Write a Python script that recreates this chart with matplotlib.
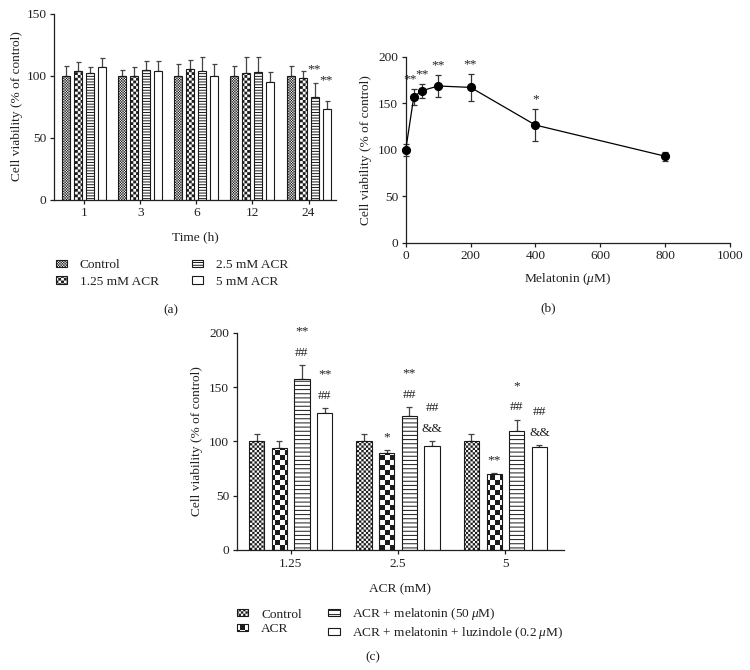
import numpy as np
import matplotlib
matplotlib.use("Agg")
import matplotlib.pyplot as plt
import matplotlib.hatch as mhatch
from matplotlib.path import Path

# ---------------- data ----------------
# panel (a)
time_labels = ["1", "3", "6", "12", "24"]
a_control = [100, 100, 100, 100, 100]
a_control_err = [7.5, 4.3, 9.0, 8.0, 7.6]
a_acr125 = [104.0, 99.5, 105.6, 102.4, 97.6]
a_acr125_err = [7.0, 7.0, 7.0, 12.6, 6.4]
a_acr25 = [102.4, 104.3, 103.5, 103.2, 82.7]
a_acr25_err = [4.6, 7.3, 11.8, 11.8, 11.0]
a_acr5 = [107.0, 104.0, 100.0, 94.4, 73.0]
a_acr5_err = [7.5, 7.3, 9.0, 8.8, 6.2]
a_series_names = ["Control", "1.25 mM ACR", "2.5 mM ACR", "5 mM ACR"]
a_stars_acr25 = ["", "", "", "", "**"]
a_stars_acr5 = ["", "", "", "", "**"]

# panel (b)
mel_dose = [0, 25, 50, 100, 200, 400, 800]
mel_viab = [99.6, 157.0, 163.4, 168.5, 167.0, 126.5, 93.0]
mel_err = [6.5, 8.5, 7.5, 11.5, 14.8, 17.6, 5.0]
mel_stars = ["", "**", "**", "**", "**", "*", ""]

# panel (c)
acr_labels = ["1.25", "2.5", "5"]
c_control = [100, 100, 100]
c_control_err = [6.4, 6.4, 6.4]
c_acr = [93.6, 89.0, 70.0]
c_acr_err = [6.4, 3.3, 1.2]
c_mel = [157.7, 123.6, 109.5]
c_mel_err = [12.2, 7.7, 10.5]
c_luz = [125.8, 96.0, 94.5]
c_luz_err = [4.6, 4.0, 1.8]
c_series_names = ["Control", "ACR", "ACR + melatonin (50\u2009$\\mu$M)",
                  "ACR + melatonin + luzindole (0.2\u2009$\\mu$M)"]
c_ann_acr = [[], ["*"], ["**"]]
c_ann_mel = [["##", "**"], ["##", "**"], ["##", "*"]]
c_ann_luz = [["##", "**"], ["&&", "##"], ["&&", "##"]]

# ---------------- custom checkerboard hatch ----------------
class _Checker(mhatch.HatchPatternBase):
    char = "O"

    def __init__(self, hatch, density):
        n = 4 * hatch.count(self.char)
        n -= n % 2
        self.n = n
        self.num_vertices = (n * n // 2) * 5 if n else 0

    def set_vertices_and_codes(self, vertices, codes):
        n = self.n
        d = 1.0 / n
        inset = 0.0048
        k = 0
        for i in range(n):
            for j in range(n):
                if (i + j) % 2 == 0:
                    x0, y0 = i * d + inset, j * d + inset
                    x1, y1 = (i + 1) * d - inset, (j + 1) * d - inset
                    vertices[k:k + 5] = [(x0, y0), (x1, y0), (x1, y1), (x0, y1), (x0, y0)]
                    codes[k:k + 5] = [Path.MOVETO, Path.LINETO, Path.LINETO,
                                      Path.LINETO, Path.CLOSEPOLY]
                    k += 5


class _CheckerFine(_Checker):
    char = "o"


mhatch._hatch_types[:] = [h for h in mhatch._hatch_types
                          if h not in (mhatch.SmallCircles, mhatch.LargeCircles)]
mhatch._hatch_types.extend([_Checker, _CheckerFine])

# ---------------- style ----------------
INK = "#231f20"
FS = 9.6
plt.rcParams.update({
    "font.family": ["Liberation Serif", "DejaVu Serif"],
    "font.size": FS,
    "mathtext.fontset": "custom",
    "mathtext.rm": "Liberation Serif",
    "mathtext.it": "Liberation Serif:italic",
    "text.color": INK,
    "axes.edgecolor": INK,
    "axes.labelcolor": INK,
    "xtick.color": INK,
    "ytick.color": INK,
    "axes.linewidth": 0.9,
    "hatch.linewidth": 0.7,
})

W, H = 750, 670
fig = plt.figure(figsize=(W / 100, H / 100), dpi=100)


def rect(l, t, r, b):
    return [l / W, 1 - b / H, (r - l) / W, (b - t) / H]


def style_axes(ax):
    for s in ("top", "right"):
        ax.spines[s].set_visible(False)
    ax.tick_params(direction="out", length=3, width=0.9, labelsize=FS, pad=2.5)


EDGE = "#1a1a1a"

# ---------------- panel (a) ----------------
axa = fig.add_axes(rect(54, 13.5, 336, 199.5))
style_axes(axa)
xa = np.arange(len(time_labels))
pitch_a, width_a = 0.214, 0.143
a_vals = [a_control, a_acr125, a_acr25, a_acr5]
a_errs = [a_control_err, a_acr125_err, a_acr25_err, a_acr5_err]
a_hatches = ["o" * 19, "O" * 9, "------", None]
a_bars = []
for i, (v, e, h, name) in enumerate(zip(a_vals, a_errs, a_hatches, a_series_names)):
    xs = xa + (i - 1.5) * pitch_a
    b = axa.bar(xs, v, width_a, color="white", edgecolor=EDGE, linewidth=0.8,
                hatch=h, label=name, zorder=2)
    a_bars.append(b)
    axa.errorbar(xs, v, yerr=[np.zeros(len(e)), e], fmt="none", ecolor="#444444",
                 elinewidth=0.9, capsize=1.8, capthick=0.9, zorder=1)
for xi, s in enumerate(a_stars_acr25):
    if s:
        axa.annotate(s, (xa[xi] + 0.5 * pitch_a, a_acr25[xi] + a_acr25_err[xi]),
                     xytext=(0, 6), textcoords="offset points", ha="center",
                     va="bottom", fontsize=FS)
for xi, s in enumerate(a_stars_acr5):
    if s:
        axa.annotate(s, (xa[xi] + 1.5 * pitch_a, a_acr5[xi] + a_acr5_err[xi]),
                     xytext=(0, 10.5), textcoords="offset points", ha="center",
                     va="bottom", fontsize=FS)
axa.set_ylim(0, 150)
axa.set_yticks([0, 50, 100, 150])
axa.set_xlim(-0.54, 4.49)
axa.set_xticks(xa)
axa.set_xticklabels(time_labels)
axa.set_xlabel("Time (h)", fontsize=FS, labelpad=8.5)
axa.set_ylabel("Cell viability (% of control)", fontsize=FS)
axa.yaxis.set_label_coords(-0.11, 0.5)
fig.legend(handles=a_bars, labels=a_series_names, ncol=2, frameon=False,
           loc="upper left", bbox_to_anchor=(56 / W, 1 - 259.5 / H),
           borderpad=0, borderaxespad=0, handlelength=0.85, handleheight=0.45,
           handletextpad=0.95, columnspacing=2.45, labelspacing=0.32, fontsize=FS)
fig.text(171 / W, 1 - 310 / H, "(a)", ha="center", va="center", fontsize=FS)

# ---------------- panel (b) ----------------
axb = fig.add_axes(rect(405.7, 56.7, 730, 242.7))
style_axes(axb)
axb.errorbar(mel_dose, mel_viab, yerr=mel_err, fmt="-o", color="black",
             ecolor="#333333", lw=0.9, elinewidth=0.9, capsize=2.4, capthick=0.9,
             markersize=5.6, clip_on=False, zorder=3)
for j, (xv, yv, ev, s) in enumerate(zip(mel_dose, mel_viab, mel_err, mel_stars)):
    if s:
        # nudge a star group left when the next point's stars sit very close
        dx = -2.5 if (j + 1 < len(mel_dose) and mel_stars[j + 1]
                      and mel_dose[j + 1] - xv < 30) else 0
        axb.annotate(s, (xv, yv + ev), xytext=(dx, 2.6), textcoords="offset points",
                     ha="center", va="bottom", fontsize=FS)
axb.set_xlim(0, 1000)
axb.set_ylim(0, 200)
axb.set_xticks([0, 200, 400, 600, 800, 1000])
axb.set_yticks([0, 50, 100, 150, 200])
axb.set_xlabel("Melatonin ($\\mu$M)", fontsize=FS, labelpad=6.5)
axb.set_ylabel("Cell viability (% of control)", fontsize=FS)
axb.yaxis.set_label_coords(-0.105, 0.5)
fig.text(548 / W, 1 - 308 / H, "(b)", ha="center", va="center", fontsize=FS)

# ---------------- panel (c) ----------------
axc = fig.add_axes(rect(236.7, 332.7, 563.5, 550))
style_axes(axc)
xc = np.arange(len(acr_labels))
pitch_c, width_c = 0.211, 0.142
c_vals = [c_control, c_acr, c_mel, c_luz]
c_errs = [c_control_err, c_acr_err, c_mel_err, c_luz_err]
c_hatches = ["o" * 11, "O" * 5, "----", None]
c_anns = [[[], [], []], c_ann_acr, c_ann_mel, c_ann_luz]
c_bars = []
for i, (v, e, h, name, ann) in enumerate(zip(c_vals, c_errs, c_hatches,
                                               c_series_names, c_anns)):
    xs = xc + (i - 1.5) * pitch_c
    b = axc.bar(xs, v, width_c, color="white", edgecolor=EDGE, linewidth=0.8,
                hatch=h, label=name, zorder=2)
    c_bars.append(b)
    axc.errorbar(xs, v, yerr=[np.zeros(len(e)), e], fmt="none", ecolor="#444444",
                 elinewidth=0.9, capsize=2.4, capthick=0.9, zorder=1)
    for xi, marks in enumerate(ann):
        for k, s in enumerate(marks):
            axc.annotate(s, (xs[xi], v[xi] + e[xi]), xytext=(0, 4.5 + 15.5 * k),
                         textcoords="offset points", ha="center", va="bottom",
                         fontsize=FS)
axc.set_ylim(0, 200)
axc.set_yticks([0, 50, 100, 150, 200])
axc.set_xlim(-0.502, 2.54)
axc.set_xticks(xc)
axc.set_xticklabels(acr_labels)
axc.set_xlabel("ACR (mM)", fontsize=FS, labelpad=9.5)
axc.set_ylabel("Cell viability (% of control)", fontsize=FS)
axc.yaxis.set_label_coords(-0.103, 0.5)
fig.legend(handles=c_bars, labels=c_series_names, ncol=2, frameon=False,
           loc="upper left", bbox_to_anchor=(237 / W, 1 - 606.5 / H),
           borderpad=0, borderaxespad=0, handlelength=0.85, handleheight=0.45,
           handletextpad=0.95, columnspacing=2.0, labelspacing=0.2, fontsize=FS)
fig.text(373 / W, 1 - 657 / H, "(c)", ha="center", va="center", fontsize=FS)

fig.savefig("out.png", dpi=100)
